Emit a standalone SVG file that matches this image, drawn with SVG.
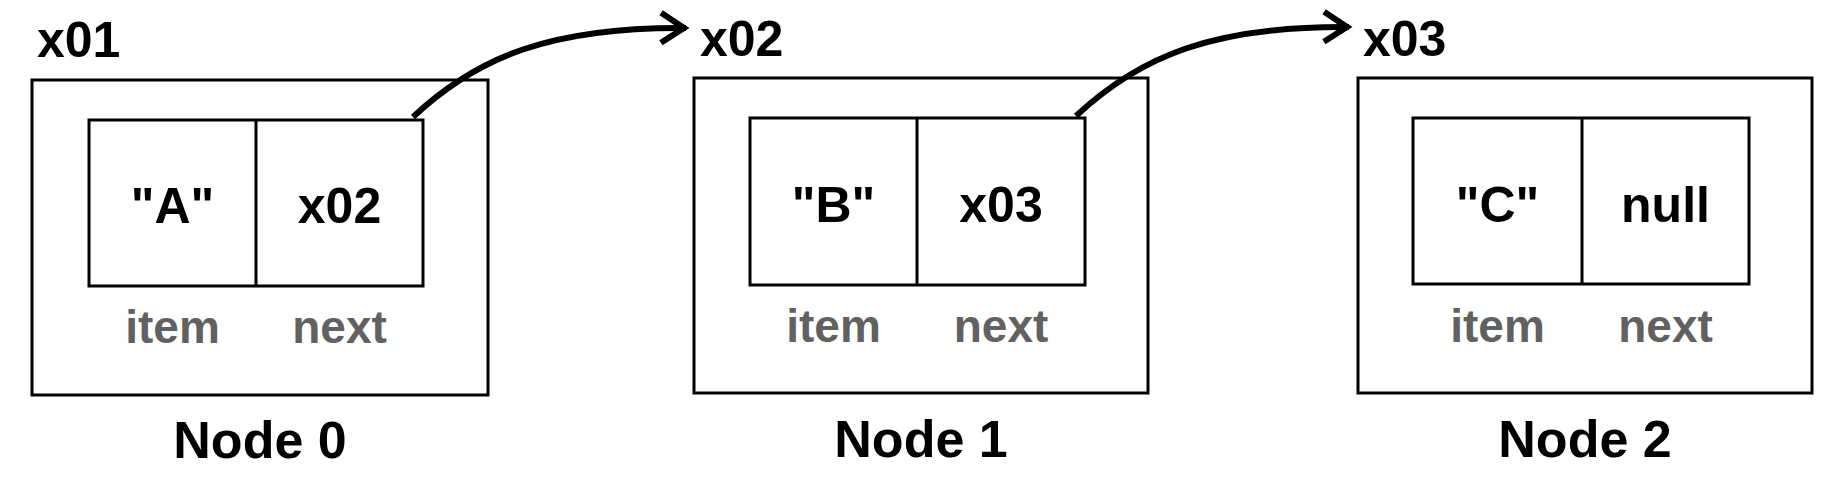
<svg xmlns="http://www.w3.org/2000/svg" width="1842" height="486" viewBox="0 0 1842 486">
  <style>
    .box { fill: none; stroke: #000; stroke-width: 3; }
    .val { font-family: "Liberation Sans", Arial, sans-serif; font-weight: bold; font-size: 50px; fill: #000; text-anchor: middle; }
    .addr { font-family: "Liberation Sans", Arial, sans-serif; font-weight: bold; font-size: 50px; fill: #000; }
    .fld { font-family: "Liberation Sans", Arial, sans-serif; font-weight: bold; font-size: 46px; fill: #616161; text-anchor: middle; }
    .name { font-family: "Liberation Sans", Arial, sans-serif; font-weight: bold; font-size: 52px; fill: #000; text-anchor: middle; }
    .link { fill: none; stroke: #000; stroke-width: 6; stroke-linecap: butt; }
  </style>
  <defs>
    <marker id="arrow" markerUnits="userSpaceOnUse" markerWidth="40" markerHeight="40" viewBox="-30 -20 40 40" refX="2" refY="0" orient="auto">
      <path d="M-23,-15 L0,0 L-23,15" fill="none" stroke="#000" stroke-width="6" stroke-linecap="butt" stroke-linejoin="miter"/>
    </marker>
  </defs>
  <rect width="1842" height="486" fill="#fff"/>

  <g id="node0">
    <text class="addr" x="37" y="57">x01</text>
    <rect class="box" x="32" y="80" width="456" height="315"/>
    <rect class="box" x="89" y="120" width="334" height="166"/>
    <line class="box" x1="256" y1="120" x2="256" y2="286"/>
    <text class="val" x="172.5" y="223">"A"</text>
    <text class="val" x="339.5" y="223">x02</text>
    <text class="fld" x="172.5" y="343">item</text>
    <text class="fld" x="339.5" y="343">next</text>
    <text class="name" x="260" y="458">Node 0</text>
  </g>

  <g id="node1">
    <text class="addr" x="700" y="56">x02</text>
    <rect class="box" x="694" y="78" width="454" height="315"/>
    <rect class="box" x="750" y="118" width="335" height="167"/>
    <line class="box" x1="917" y1="118" x2="917" y2="285"/>
    <text class="val" x="833.5" y="222">"B"</text>
    <text class="val" x="1001" y="222">x03</text>
    <text class="fld" x="833.5" y="342">item</text>
    <text class="fld" x="1001" y="342">next</text>
    <text class="name" x="921" y="457">Node 1</text>
  </g>

  <g id="node2">
    <text class="addr" x="1363" y="56">x03</text>
    <rect class="box" x="1358" y="78" width="454" height="315"/>
    <rect class="box" x="1413" y="118" width="336" height="166"/>
    <line class="box" x1="1582" y1="118" x2="1582" y2="284"/>
    <text class="val" x="1497.5" y="222">"C"</text>
    <text class="val" x="1665.5" y="222">null</text>
    <text class="fld" x="1497.5" y="342">item</text>
    <text class="fld" x="1665.5" y="342">next</text>
    <text class="name" x="1585" y="457">Node 2</text>
  </g>

  <g id="connectors">
    <path class="link" d="M413,117 C478,56 552,27 686,28" marker-end="url(#arrow)"/>
    <path class="link" d="M1076,116 C1141,55 1215,26 1349,27" marker-end="url(#arrow)"/>
  </g>
</svg>
